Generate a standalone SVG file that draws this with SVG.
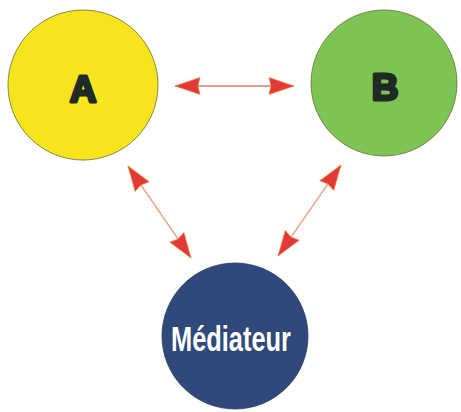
<svg xmlns="http://www.w3.org/2000/svg" width="461" height="412" viewBox="0 0 461 412">
  <style>
    .node { stroke: #6b6b3a; stroke-width: 0.8; }
    .letter { font-family: "Liberation Sans", Arial, sans-serif; font-weight: 900; font-size: 37px; fill: #1f2a24; stroke: #1f2a24; stroke-width: 3; stroke-linejoin: round; text-anchor: middle; }
    .med { font-family: "Liberation Sans", Arial, sans-serif; font-weight: bold; font-size: 35px; fill: #ffffff; text-anchor: middle; }
    .link { stroke: #eaa58c; stroke-width: 1.4; fill: none; marker-start: url(#head); marker-end: url(#head); }
  </style>
  <defs>
    <!-- filled double-ended arrowhead, tip sits on the line end -->
    <marker id="head" markerUnits="userSpaceOnUse" markerWidth="27" markerHeight="19" refX="26" refY="9.5" orient="auto-start-reverse" viewBox="0 0 27 19">
      <path d="M1,1 L26,9.5 L1,18 L3,9.5 Z" fill="#e23838" stroke="#ee8a3a" stroke-width="0.7" stroke-linejoin="round"/>
    </marker>
  </defs>
  <rect width="461" height="412" fill="#ffffff"/>

  <g id="connectors">
    <line class="link" x1="175" y1="86" x2="294" y2="86" style="stroke:#e07a70"/>
    <line class="link" x1="128" y1="166" x2="191" y2="258"/>
    <line class="link" x1="341" y1="165" x2="278" y2="256"/>
  </g>

  <g id="node-a">
    <circle class="node" cx="83" cy="85" r="75" fill="#f6e51c"/>
    <text class="letter" x="83" y="102">A</text>
  </g>

  <g id="node-b">
    <circle class="node" cx="384" cy="83" r="73" fill="#7ec454"/>
    <text class="letter" x="385" y="100">B</text>
  </g>

  <g id="node-mediateur">
    <circle class="node" cx="235" cy="336" r="73" fill="#2f4a7a" style="stroke:#2a3a5a"/>
    <text class="med" x="231" y="351" textLength="120" lengthAdjust="spacingAndGlyphs">Médiateur</text>
  </g>
</svg>
